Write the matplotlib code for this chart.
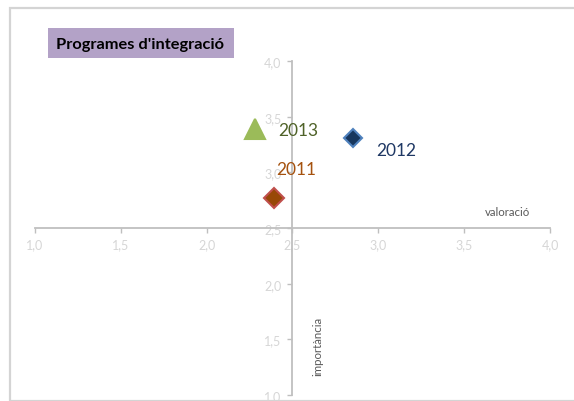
import matplotlib.pyplot as plt
from matplotlib.patches import Rectangle

plt.rcParams['font.family'] = ['Lato', 'DejaVu Sans']

# dades
anys = ['2011', '2012', '2013']
valoracio = [2.39, 2.85, 2.28]
importancia = [2.77, 3.31, 3.39]
ticks = [1.0, 1.5, 2.0, 2.5, 3.0, 3.5, 4.0]
tick_labels = ['1,0', '1,5', '2,0', '2,5', '3,0', '3,5', '4,0']

W, H = 574, 402
fig = plt.figure(figsize=(W / 100, H / 100), dpi=100)

# marc del grafic (estil Excel)
fig.patches.append(Rectangle((10 / W, 0), 1.2, (H - 9) / H, transform=fig.transFigure,
                             fill=False, edgecolor='#D4D4D4', lw=1.6))

ax = fig.add_axes([35 / W, 6 / H, 515 / W, 334 / H])
ax.set_xlim(1, 4)
ax.set_ylim(1, 4)
ax.patch.set_alpha(0)

for s in ['top', 'right']:
    ax.spines[s].set_visible(False)
ax.spines['left'].set_position(('data', 2.5))
ax.spines['bottom'].set_position(('data', 2.5))
for s in ['left', 'bottom']:
    ax.spines[s].set_color('#BFBFBF')
    ax.spines[s].set_linewidth(1.3)

ax.set_xticks(ticks)
ax.set_xticklabels(tick_labels)
ax.set_yticks(ticks)
ax.set_yticklabels(tick_labels)
ax.tick_params(direction='out', length=3.5, width=1.0, color='#BFBFBF',
               labelcolor='#D6D6D6', labelsize=9)
ax.tick_params(axis='x', pad=3.5)
ax.tick_params(axis='y', pad=4.5)

# estils de cada any
marcadors = {'2011': 'D', '2012': 'D', '2013': '^'}
farciment = {'2011': '#984807', '2012': '#17375E', '2013': '#9BBB59'}
vora = {'2011': '#C0504D', '2012': '#4F81BD', '2013': '#9BBB59'}
mida = {'2011': 10.5, '2012': 9.5, '2013': 14}
color_text = {'2011': '#A5520F', '2012': '#1F3864', '2013': '#4F6228'}
despl = {'2011': (2, 21), '2012': (17, -8.5), '2013': (17, -1)}

for a, x, y in zip(anys, valoracio, importancia):
    ax.plot(x, y, marker=marcadors[a], markersize=mida[a], markerfacecolor=farciment[a],
            markeredgecolor=vora[a], markeredgewidth=1.5, linestyle='none', zorder=3)
    ax.annotate(a, (x, y), xytext=despl[a], textcoords='offset points',
                ha='left', va='center', fontsize=12.5, color=color_text[a], zorder=4)

# titols dels eixos
fig.text(507 / W, 1 - 213 / H, 'valoració', ha='center', va='center',
         fontsize=8.3, color='#595959')
fig.text(318 / W, 1 - 346 / H, 'importància', ha='center', va='center',
         fontsize=8.3, color='#595959', rotation=90)

# titol amb requadre
fig.patches.append(Rectangle((48 / W, 1 - 59 / H), 186 / W, 30 / H,
                             transform=fig.transFigure, facecolor='#B3A2C7',
                             edgecolor='none'))
fig.text(140 / W, 1 - 44.5 / H, "Programes d'integració", ha='center', va='center',
         fontsize=11.8, fontweight='bold', color='black')

fig.savefig('out.png', dpi=100)
